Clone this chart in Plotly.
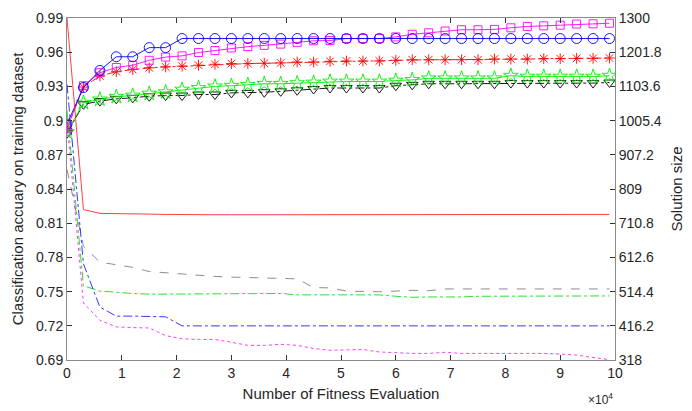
import plotly.graph_objects as go

# ---------------- data ----------------
evals = [i * 3000 for i in range(34)]

acc_blue = [0.897, 0.929, 0.944, 0.956, 0.956, 0.964, 0.964] + [0.972] * 27
acc_magenta = [0.893, 0.9306, 0.942, 0.9466, 0.9486, 0.9529, 0.9557, 0.9568, 0.9597, 0.9614,
               0.9637, 0.9649, 0.966, 0.9671, 0.9686, 0.970, 0.9702, 0.972, 0.972, 0.972,
               0.9734, 0.9757, 0.977, 0.9786, 0.9797, 0.9797, 0.980, 0.9814, 0.9826, 0.9831,
               0.9837, 0.9847, 0.9849, 0.9854]
acc_red = [0.893, 0.9294, 0.9392, 0.9429, 0.9448, 0.9463, 0.9471, 0.9477, 0.9486, 0.9494,
           0.950, 0.950, 0.9503, 0.9506, 0.9514, 0.9514, 0.952, 0.9523, 0.9523, 0.9523,
           0.9529, 0.9534, 0.9534, 0.9534, 0.9534, 0.9534, 0.954, 0.954, 0.954, 0.9543,
           0.9543, 0.9546, 0.9546, 0.9549]
acc_green = [0.890, 0.9157, 0.9186, 0.9209, 0.922, 0.9237, 0.9249, 0.9272, 0.9286, 0.930,
             0.9306, 0.9314, 0.9323, 0.9323, 0.9329, 0.9334, 0.9343, 0.9343, 0.9343, 0.9343,
             0.9351, 0.9357, 0.9371, 0.9371, 0.9371, 0.9371, 0.9371, 0.9394, 0.9386, 0.9386,
             0.9386, 0.9386, 0.9386, 0.9394]
acc_black = [0.889, 0.9143, 0.9171, 0.9191, 0.920, 0.9214, 0.922, 0.922, 0.9229, 0.9229,
             0.9243, 0.9243, 0.9249, 0.9257, 0.9266, 0.9277, 0.9286, 0.9286, 0.9286, 0.9286,
             0.9306, 0.9314, 0.9323, 0.9323, 0.9323, 0.9323, 0.9323, 0.9329, 0.9329, 0.9329,
             0.9329, 0.9329, 0.9329, 0.9334]

size_red = [1300, 750, 739, 739, 739, 737, 736, 735, 735, 735, 735, 735, 735, 735, 735, 735, 735,
            735, 735, 735, 735, 735, 735, 735, 735, 735, 735, 735, 735, 736, 736, 736, 736, 736]
size_blue = [1109, 594, 470, 444, 444, 443, 442] + [416] * 27
size_magenta = [1000, 482, 432, 413, 411, 410, 388, 379, 377, 377, 369, 360, 360, 363, 360, 351,
                346, 348, 348, 341, 338, 337, 337, 340, 337, 337, 337, 337, 339, 337, 335, 332,
                325, 319]
size_gray = [865, 645, 599, 592, 584, 572, 568, 564, 561, 558, 556, 555, 552, 551, 551, 526, 525,
             516, 514, 514, 516, 518, 517, 522, 522, 522, 522, 522, 522, 522, 522, 522, 522, 522]
size_green = [1035, 531, 516, 512, 509, 507, 507, 507, 509, 507, 507, 507, 507, 509, 505, 505,
              507, 507, 507, 505, 501, 498, 499, 498, 499, 501, 501, 501, 501, 501, 501, 501,
              501, 502]

x_tickvals = [i * 10000 for i in range(11)]
x_ticktext = [str(i) for i in range(11)]
y1_tickvals = [0.69, 0.72, 0.75, 0.78, 0.81, 0.84, 0.87, 0.90, 0.93, 0.96, 0.99]
y1_ticktext = ["0.69", "0.72", "0.75", "0.78", "0.81", "0.84", "0.87", "0.9", "0.93", "0.96", "0.99"]
y2_tickvals = [318, 416.2, 514.4, 612.6, 710.8, 809, 907.2, 1005.4, 1103.6, 1201.8, 1300]
y2_ticktext = ["318", "416.2", "514.4", "612.6", "710.8", "809", "907.2", "1005.4", "1103.6", "1201.8", "1300"]

FONT = "Liberation Sans, Arial, sans-serif"
TXT = "#262626"
AXL = "#8a8a8a"

fig = go.Figure()

# solution size lines (right axis)
size_specs = [
    (size_red, "#ff2a2a", "solid"),
    (size_gray, "#808080", "dash"),
    (size_green, "#11e011", "dashdot"),
    (size_blue, "#2020ff", "dashdot"),
    (size_magenta, "#ff22ff", "dot"),
]
for ys, col, dash in size_specs:
    fig.add_trace(go.Scatter(x=evals, y=ys, yaxis="y2", mode="lines",
                             line=dict(color=col, width=0.9, dash=dash), showlegend=False))

# accuracy lines (left axis)
acc_specs = [
    (acc_black, "#000000", "dashdot", "triangle-down-open", 10),
    (acc_green, "#00ee00", "solid", "star-open", 11),
    (acc_red, "#ff0000", "dashdot", "asterisk-open", 9),
    (acc_magenta, "#ff00ff", "solid", "square-open", 8),
    (acc_blue, "#0000ff", "solid", "circle-open", 10),
]
for ys, col, dash, sym, sz in acc_specs:
    fig.add_trace(go.Scatter(x=evals, y=ys, mode="lines+markers",
                             line=dict(color=col, width=0.9, dash=dash),
                             marker=dict(symbol=sym, size=sz, color=col, line=dict(color=col, width=0.9)),
                             showlegend=False))

fig.update_layout(
    width=692, height=411,
    margin=dict(l=67, r=70, t=10, b=51),
    plot_bgcolor="white", paper_bgcolor="white",
    font=dict(family=FONT, color=TXT, size=14),
    xaxis=dict(range=[0, 100000], tickvals=x_tickvals, ticktext=x_ticktext,
               ticks="inside", ticklen=5, tickcolor="#333", showline=True, linecolor=AXL,
               mirror="ticks", showgrid=False, zeroline=False,
               tickfont=dict(size=14, color=TXT),
               title=dict(text="Number of Fitness Evaluation", font=dict(size=15, color=TXT), standoff=8)),
    yaxis=dict(range=[0.69, 0.99], tickvals=y1_tickvals, ticktext=y1_ticktext,
               ticks="inside", ticklen=5, tickcolor="#333", showline=True, linecolor=AXL,
               showgrid=False, zeroline=False, tickfont=dict(size=14, color=TXT),
               title=dict(text="Classification accuary on training dataset",
                          font=dict(size=15, color=TXT), standoff=8)),
    yaxis2=dict(range=[318, 1300], tickvals=y2_tickvals, ticktext=y2_ticktext,
                overlaying="y", side="right", anchor="x",
                ticks="inside", ticklen=5, tickcolor="#333", showline=True, linecolor=AXL,
                showgrid=False, zeroline=False, tickfont=dict(size=14, color=TXT),
                title=dict(text="Solution size", font=dict(size=15, color=TXT), standoff=10)),
)

fig.add_annotation(text="×10<sup>4</sup>", xref="paper", yref="paper", x=1.0, y=-0.086,
                   xanchor="right", yanchor="top", showarrow=False,
                   font=dict(family=FONT, size=12, color=TXT))

fig.write_html("out.html")
